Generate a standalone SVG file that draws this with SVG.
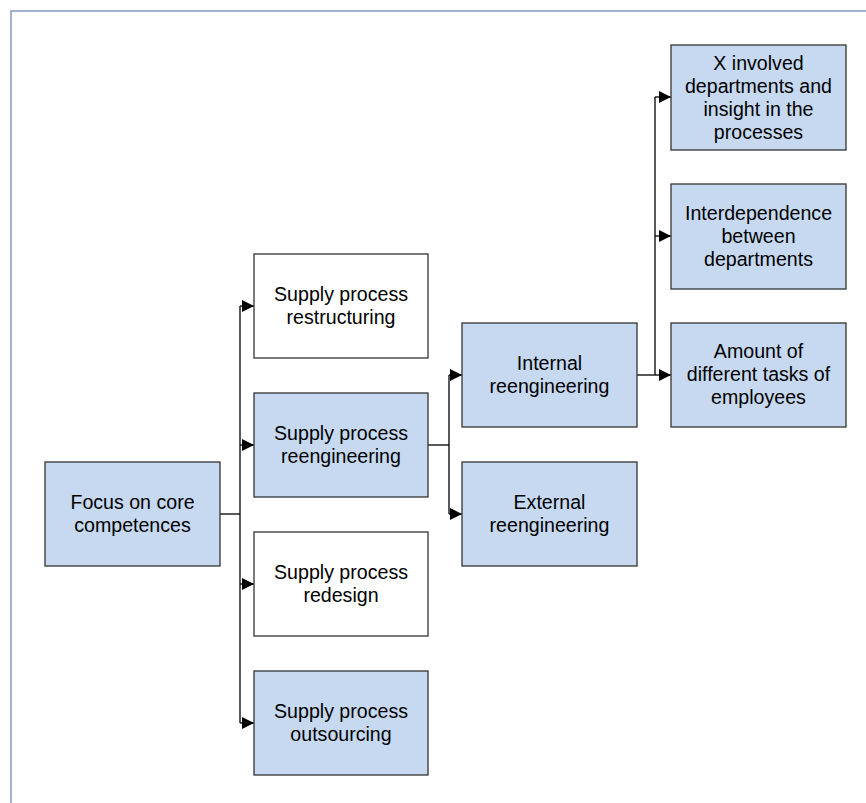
<svg xmlns="http://www.w3.org/2000/svg" width="866" height="803" viewBox="0 0 866 803">
  <defs>
    <marker id="arrow" viewBox="0 0 12 12" refX="12" refY="6" markerWidth="12" markerHeight="12" markerUnits="userSpaceOnUse" orient="auto">
      <path d="M0,0 L12,6 L0,12 Z" fill="#000"/>
    </marker>
    <style>
      .box { stroke: #333; stroke-width: 1.3; }
      .blue { fill: #c6d9f0; }
      .white { fill: #ffffff; }
      .lbl { font-family: "Liberation Sans", Arial, sans-serif; font-size: 19.6px; fill: #000; text-anchor: middle; }
      .wire { fill: none; stroke: #000; stroke-width: 1.3; }
      .frame { fill: none; stroke: #9fb3cf; stroke-width: 2; }
    </style>
  </defs>

  <rect width="866" height="803" fill="#fff"/>

  <!-- page frame -->
  <path class="frame" d="M11,803 L11,11 L866,11"/>

  <!-- connectors -->
  <g id="connectors">
    <path class="wire" d="M220,514 H240"/>
    <path class="wire" d="M240,306 V723"/>
    <path class="wire" d="M240,306 H254" marker-end="url(#arrow)"/>
    <path class="wire" d="M240,445 H254" marker-end="url(#arrow)"/>
    <path class="wire" d="M240,584 H254" marker-end="url(#arrow)"/>
    <path class="wire" d="M240,723 H254" marker-end="url(#arrow)"/>

    <path class="wire" d="M428,445 H449"/>
    <path class="wire" d="M449,375 V514"/>
    <path class="wire" d="M449,375 H462" marker-end="url(#arrow)"/>
    <path class="wire" d="M449,514 H462" marker-end="url(#arrow)"/>

    <path class="wire" d="M637,375 H655"/>
    <path class="wire" d="M655,97 V375"/>
    <path class="wire" d="M655,97 H671" marker-end="url(#arrow)"/>
    <path class="wire" d="M655,236 H671" marker-end="url(#arrow)"/>
    <path class="wire" d="M655,375 H671" marker-end="url(#arrow)"/>
  </g>

  <g id="focus">
    <rect class="box blue" x="45" y="462" width="175" height="104"/>
    <text class="lbl" x="132.5" y="509">Focus on core</text>
    <text class="lbl" x="132.5" y="532">competences</text>
  </g>

  <g id="restructuring">
    <rect class="box white" x="254" y="254" width="174" height="104"/>
    <text class="lbl" x="341" y="301">Supply process</text>
    <text class="lbl" x="341" y="324">restructuring</text>
  </g>

  <g id="reengineering">
    <rect class="box blue" x="254" y="393" width="174" height="104"/>
    <text class="lbl" x="341" y="440">Supply process</text>
    <text class="lbl" x="341" y="463">reengineering</text>
  </g>

  <g id="redesign">
    <rect class="box white" x="254" y="532" width="174" height="104"/>
    <text class="lbl" x="341" y="579">Supply process</text>
    <text class="lbl" x="341" y="602">redesign</text>
  </g>

  <g id="outsourcing">
    <rect class="box blue" x="254" y="671" width="174" height="104"/>
    <text class="lbl" x="341" y="718">Supply process</text>
    <text class="lbl" x="341" y="741">outsourcing</text>
  </g>

  <g id="internal">
    <rect class="box blue" x="462" y="323" width="175" height="104"/>
    <text class="lbl" x="549.5" y="370">Internal</text>
    <text class="lbl" x="549.5" y="393">reengineering</text>
  </g>

  <g id="external">
    <rect class="box blue" x="462" y="462" width="175" height="104"/>
    <text class="lbl" x="549.5" y="509">External</text>
    <text class="lbl" x="549.5" y="532">reengineering</text>
  </g>

  <g id="involved">
    <rect class="box blue" x="671" y="45" width="175" height="105"/>
    <text class="lbl" x="758.5" y="69.5">X involved</text>
    <text class="lbl" x="758.5" y="92.5">departments and</text>
    <text class="lbl" x="758.5" y="115.5">insight in the</text>
    <text class="lbl" x="758.5" y="138.5">processes</text>
  </g>

  <g id="interdependence">
    <rect class="box blue" x="671" y="184" width="175" height="105"/>
    <text class="lbl" x="758.5" y="219.5">Interdependence</text>
    <text class="lbl" x="758.5" y="242.5">between</text>
    <text class="lbl" x="758.5" y="265.5">departments</text>
  </g>

  <g id="tasks">
    <rect class="box blue" x="671" y="323" width="175" height="104"/>
    <text class="lbl" x="758.5" y="358">Amount of</text>
    <text class="lbl" x="758.5" y="381">different tasks of</text>
    <text class="lbl" x="758.5" y="404">employees</text>
  </g>
</svg>
